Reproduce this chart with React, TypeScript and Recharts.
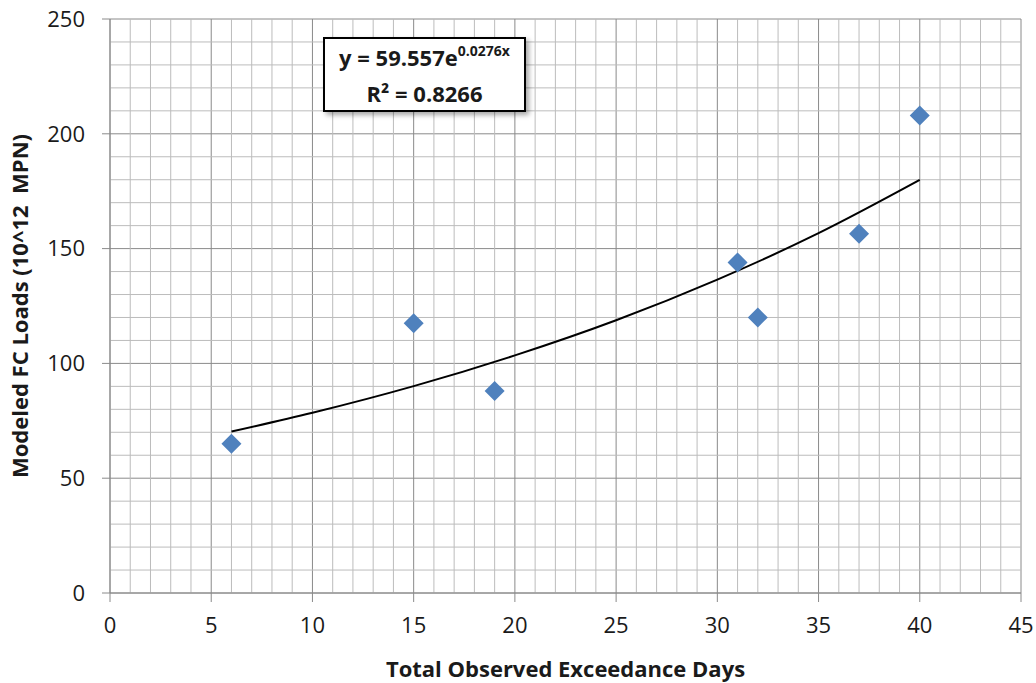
import {
  ScatterChart,
  Scatter,
  XAxis,
  YAxis,
  CartesianGrid,
  ReferenceLine,
} from "recharts";

const days = [6, 15, 19, 31, 32, 37, 40];
const loads = [65, 117.5, 88, 144, 120, 156.5, 208];

// trendline
const trendDays = [6, 10, 15, 20, 25, 30, 35, 40];
const trendLoads = [70.3, 78.5, 90.1, 103.5, 118.8, 136.5, 156.7, 179.9];

const xTicks = [0, 5, 10, 15, 20, 25, 30, 35, 40, 45];
const yTicks = [0, 50, 100, 150, 200, 250];
const xMinor = [1, 2, 3, 4, 6, 7, 8, 9, 11, 12, 13, 14, 16, 17, 18, 19, 21, 22, 23, 24, 26, 27, 28, 29, 31, 32, 33, 34, 36, 37, 38, 39, 41, 42, 43, 44];
const yMinor = [10, 20, 30, 40, 60, 70, 80, 90, 110, 120, 130, 140, 160, 170, 180, 190, 210, 220, 230, 240];

const points = days.map((d, i) => ({ x: d, y: loads[i] }));
const trend = trendDays.map((d, i) => ({ x: d, y: trendLoads[i] }));

const FONT = "'Open Sans', sans-serif";
const MAJOR = "#8a8a8a";
const MINOR = "#bcbcbc";

function Diamond(props: any) {
  const { cx, cy } = props;
  if (cx == null || cy == null) return null;
  const r = 10;
  return (
    <polygon
      points={`${cx},${cy - r} ${cx + r},${cy} ${cx},${cy + r} ${cx - r},${cy}`}
      fill="#4f81bd"
    />
  );
}

export default function App() {
  return (
    <div style={{ position: "absolute", left: 0, top: 0, width: 1036, height: 683, background: "#fff", fontFamily: FONT }}>
      <ScatterChart width={1036} height={683} margin={{ top: 19, right: 15, bottom: 30, left: 40 }}>
        {xMinor.map((v) => (
          <ReferenceLine key={"x" + v} x={v} stroke={MINOR} strokeWidth={1} />
        ))}
        {yMinor.map((v) => (
          <ReferenceLine key={"y" + v} y={v} stroke={MINOR} strokeWidth={1} />
        ))}
        <CartesianGrid stroke={MAJOR} strokeWidth={1} />
        <XAxis
          type="number"
          dataKey="x"
          domain={[0, 45]}
          ticks={xTicks}
          interval={0}
          height={60}
          axisLine={{ stroke: MAJOR }}
          tickLine={{ stroke: MAJOR }}
          tickSize={9}
          tick={{ fill: "#1a1a1a", fontSize: 22, fontFamily: FONT, dy: 13 }}
          label={{
            value: "Total Observed Exceedance Days",
            position: "insideBottom",
            offset: -24,
            fill: "#1a1a1a",
            fontSize: 22,
            fontWeight: 700,
            fontFamily: FONT,
          }}
        />
        <YAxis
          type="number"
          dataKey="y"
          domain={[0, 250]}
          ticks={yTicks}
          interval={0}
          width={70}
          axisLine={{ stroke: MAJOR }}
          tickLine={{ stroke: MAJOR }}
          tickSize={8}
          tick={{ fill: "#1a1a1a", fontSize: 22, fontFamily: FONT, dx: -15 }}
          label={{
            value: "Modeled FC Loads (10^12\u00a0\u00a0MPN)",
            angle: -90,
            position: "insideLeft",
            offset: -20,
            style: { textAnchor: "middle" },
            fill: "#1a1a1a",
            fontSize: 22,
            fontWeight: 700,
            fontFamily: FONT,
          }}
        />
        <Scatter
          data={trend}
          line={{ stroke: "#000", strokeWidth: 2 }}
          lineJointType="monotoneX"
          shape={() => null}
          isAnimationActive={false}
        />
        <Scatter data={points} shape={<Diamond />} isAnimationActive={false} />
      </ScatterChart>
      <div
        style={{
          position: "absolute",
          left: 323,
          top: 37,
          width: 199,
          height: 69,
          border: "2px solid #000",
          background: "#fff",
          boxShadow: "3px 3px 5px rgba(0,0,0,0.35)",
          textAlign: "center",
          fontWeight: 700,
          fontSize: 22,
          color: "#1a1a1a",
          lineHeight: "33px",
          paddingTop: 2,
        }}
      >
        <div style={{ whiteSpace: "nowrap" }}>
          y = 59.557e<sup style={{ fontSize: 14, verticalAlign: 0, position: "relative", top: -10 }}>0.0276x</sup>
        </div>
        <div>R² = 0.8266</div>
      </div>
    </div>
  );
}
